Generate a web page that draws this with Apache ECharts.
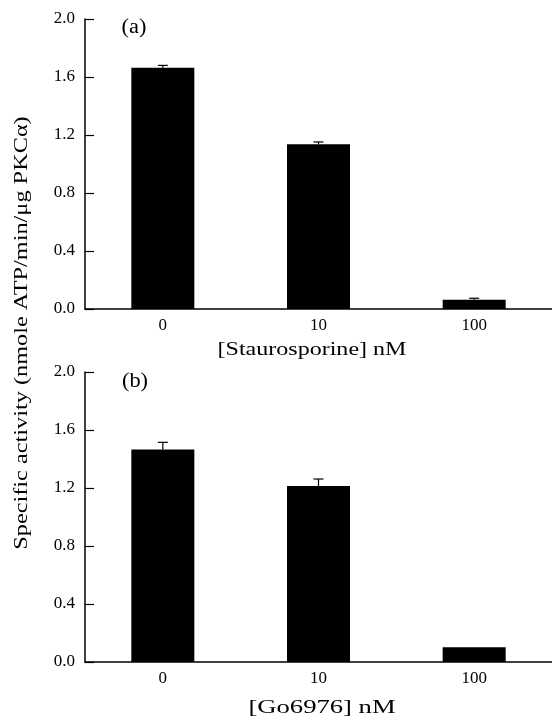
<!DOCTYPE html>
<html>
<head>
<meta charset="utf-8">
<script src="https://cdn.jsdelivr.net/npm/echarts@6/dist/echarts.min.js"></script>
<style>
  html, body { margin: 0; padding: 0; background: #fff; }
  #chart { width: 552px; height: 720px; }
</style>
</head>
<body>
<div id="chart"></div>
<script>
// data
var doses = ['0', '10', '100'];
var stauroMean = [1.664, 1.136, 0.064];
var stauroErr = [0.016, 0.016, 0.010];
var goMean = [1.465, 1.214, 0.101];
var goErr = [0.050, 0.048, 0.0];
var yTicks = [0, 0.4, 0.8, 1.2, 1.6, 2.0];

var font = 'Liberation Serif, Times New Roman, serif';

function errData(mean, err) {
  return mean.map(function (m, i) { return [i, m, m + err[i]]; });
}

function errSeries(idx, mean, err) {
  return {
    type: 'custom',
    xAxisIndex: idx,
    yAxisIndex: idx,
    z: 1,
    data: errData(mean, err),
    renderItem: function (params, api) {
      if (api.value(2) <= api.value(1)) return null;
      var p0 = api.coord([api.value(0), api.value(1)]);
      var p1 = api.coord([api.value(0), api.value(2)]);
      var style = { stroke: '#000', lineWidth: 1.2 };
      return {
        type: 'group',
        children: [
          { type: 'line', shape: { x1: p0[0], y1: p0[1], x2: p1[0], y2: p1[1] }, style: style },
          { type: 'line', shape: { x1: p1[0] - 5, y1: p1[1], x2: p1[0] + 5, y2: p1[1] }, style: style }
        ]
      };
    }
  };
}

function xAxis(idx) {
  return {
    type: 'category',
    gridIndex: idx,
    data: doses,
    axisLine: { lineStyle: { color: '#000', width: 1.5 } },
    axisTick: { show: false },
    axisLabel: { fontFamily: font, fontSize: 17, color: '#000', margin: 8 }
  };
}

function yAxis(idx) {
  return {
    type: 'value',
    gridIndex: idx,
    min: yTicks[0],
    max: yTicks[yTicks.length - 1],
    interval: 0.4,
    axisLine: { show: true, lineStyle: { color: '#000', width: 1.5 } },
    axisTick: { show: true, inside: true, length: 9, lineStyle: { color: '#000', width: 1.2 } },
    axisLabel: {
      fontFamily: font, fontSize: 17, color: '#000', margin: 10,
      formatter: function (v) { return v.toFixed(1); }
    },
    splitLine: { show: false }
  };
}

function label(text, x, y, size, sx, rot) {
  return {
    type: 'text', x: x, y: y, rotation: rot || 0, scaleX: sx,
    style: {
      text: text, font: size + 'px ' + font, fill: '#000',
      align: 'center', verticalAlign: 'middle'
    }
  };
}

var chart = echarts.init(document.getElementById('chart'));
chart.setOption({
  backgroundColor: '#fff',
  animation: false,
  grid: [
    { left: 85, right: 0, top: 19, height: 290 },
    { left: 85, right: 0, top: 372, height: 290 }
  ],
  xAxis: [xAxis(0), xAxis(1)],
  yAxis: [yAxis(0), yAxis(1)],
  graphic: [
    label('Specific activity (nmole ATP/min/\u03bcg PKC\u03b1)', 22, 333, 18, 1.35, Math.PI / 2),
    label('[Staurosporine] nM', 312, 350, 18, 1.335),
    label('[Go6976] nM', 322, 708, 18, 1.48),
    label('(a)', 134, 28, 20, 1.12),
    label('(b)', 135, 382, 20, 1.12)
  ],
  series: [
    { type: 'bar', xAxisIndex: 0, yAxisIndex: 0, data: stauroMean, barWidth: 63, z: 2,
      itemStyle: { color: '#000' } },
    errSeries(0, stauroMean, stauroErr),
    { type: 'bar', xAxisIndex: 1, yAxisIndex: 1, data: goMean, barWidth: 63, z: 2,
      itemStyle: { color: '#000' } },
    errSeries(1, goMean, goErr)
  ]
});
</script>
</body>
</html>
